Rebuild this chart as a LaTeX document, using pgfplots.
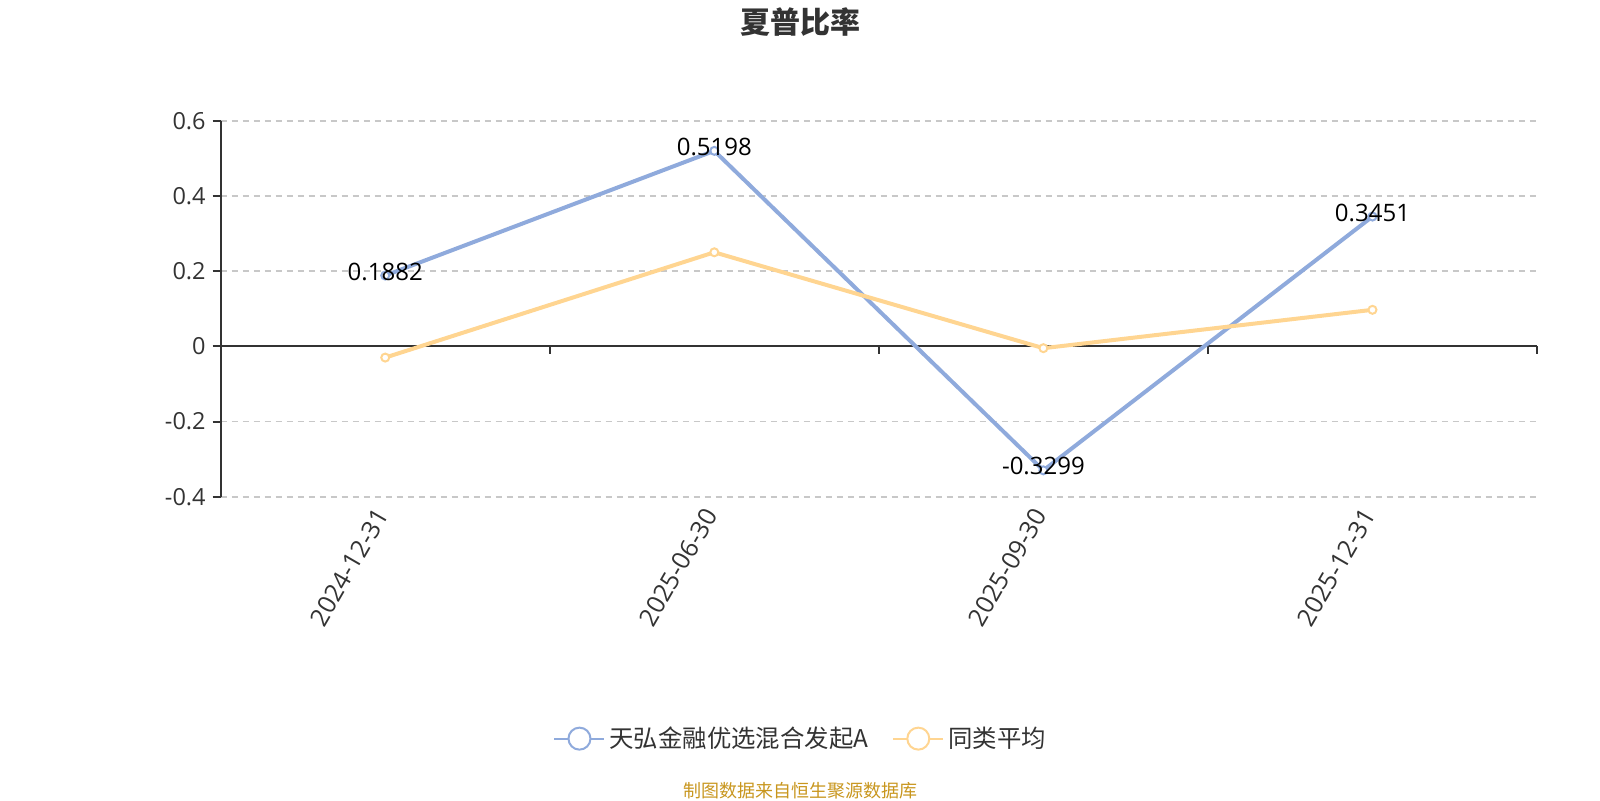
\documentclass[border=0pt]{standalone}
\usepackage{fontspec}
\setmainfont{Open Sans}
\newfontfamily\cjk{Noto Sans CJK SC}
\usepackage{pgfplots}
\pgfplotsset{compat=1.18}
\definecolor{fundblue}{HTML}{8FAADC}
\definecolor{avgyellow}{HTML}{FFD591}
\definecolor{axisgray}{HTML}{333333}
\definecolor{gridgray}{HTML}{C8C8C8}
\definecolor{srcgold}{HTML}{C8961E}

\begin{document}
\begin{tikzpicture}
\path[use as bounding box] (0pt,0pt) rectangle (800pt,400pt);
\begin{axis}[
  at={(110.35pt,151.65pt)}, anchor=south west,
  scale only axis, width=658.15pt, height=188pt,
  xmin=-0.5, xmax=3.5, ymin=-0.4, ymax=0.6,
  xtick={0,1,2,3},
  xticklabels={2024-12-31,2025-06-30,2025-09-30,2025-12-31},
  ytick={-0.4,-0.2,0,0.2,0.4,0.6},
  yticklabels={-0.4,-0.2,0,0.2,0.4,0.6},
  axis x line*=bottom, axis y line*=left,
  x axis line style={draw=none},
  y axis line style={draw=axisgray, line width=1.1pt, -},
  x tick style={draw=none},
  y tick style={draw=axisgray, line width=1pt},
  major tick length=4pt,
  tick align=outside,
  ymajorgrids,
  grid style={gridgray, dash pattern=on 3pt off 2.5pt, line width=0.9pt},
  yticklabel style={font=\fontsize{11.75}{13}\selectfont, text=axisgray},
  xticklabel style={font=\fontsize{12.5}{14}\selectfont, text=axisgray, rotate=60, anchor=east},
  clip=false,
  legend style={at={(0.2525,-0.6434)}, anchor=west, draw=none, fill=none,
    legend columns=2, inner sep=0pt,
    font=\cjk\fontsize{12.2}{14}\selectfont, text=axisgray,
    /tikz/every even column/.append style={column sep=10pt}},
  legend cell align=left,
]
\draw[axisgray, line width=1pt] (axis cs:-0.5,0) -- (axis cs:3.5,0);
\draw[axisgray, line width=1pt] (axis cs:0.5,0) -- ++(0pt,-4pt);
\draw[axisgray, line width=1pt] (axis cs:1.5,0) -- ++(0pt,-4pt);
\draw[axisgray, line width=1pt] (axis cs:2.5,0) -- ++(0pt,-4pt);
\draw[axisgray, line width=1pt] (axis cs:3.5,0) -- ++(0pt,-4pt);

\addplot[fundblue, line width=2pt, mark=*, mark size=2pt,
  mark options={fill=white, line width=1pt},
  point meta=explicit symbolic, nodes near coords={\pgfplotspointmeta},
  every node near coord/.append style={anchor=center, yshift=2pt, text=black,
    font=\fontsize{12}{14}\selectfont},
  legend image code/.code={
    \draw[fundblue, line width=1pt] (0pt,0pt) -- (25pt,0pt);
    \draw[fundblue, line width=1pt, fill=white] (12.5pt,0pt) circle (5.5pt);}]
  coordinates {(0,0.1882)[0.1882] (1,0.5198)[0.5198] (2,-0.3299)[-0.3299] (3,0.3451)[0.3451]};
\addlegendentry{天弘金融优选混合发起A}

\addplot[avgyellow, line width=2pt, mark=*, mark size=2pt,
  mark options={fill=white, line width=1pt},
  legend image code/.code={
    \draw[avgyellow, line width=1pt] (0pt,0pt) -- (25pt,0pt);
    \draw[avgyellow, line width=1pt, fill=white] (12.5pt,0pt) circle (5.5pt);}]
  coordinates {(0,-0.03) (1,0.25) (2,-0.005) (3,0.097)};
\addlegendentry{同类平均}
\end{axis}
\node[font=\cjk\bfseries\fontsize{15}{18}\selectfont, text=axisgray] at (400pt,388.75pt) {夏普比率};
\node[font=\cjk\fontsize{9}{11}\selectfont, text=srcgold] at (400pt,4.75pt) {制图数据来自恒生聚源数据库};
\end{tikzpicture}
\end{document}
